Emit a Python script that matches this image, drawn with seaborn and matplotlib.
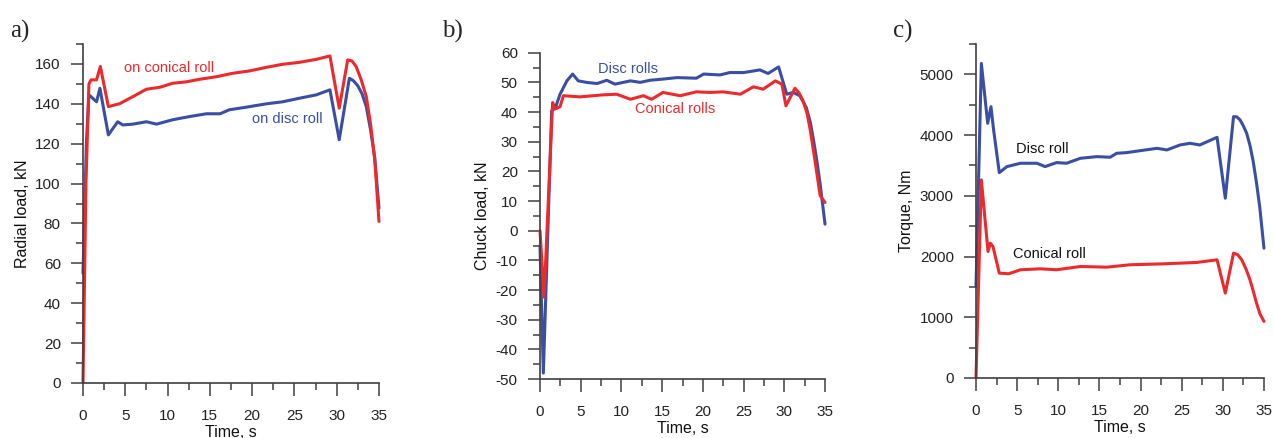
import matplotlib
matplotlib.use("Agg")
import matplotlib.pyplot as plt
import seaborn as sns
import pandas as pd
from matplotlib.ticker import MultipleLocator

# ---------------- data ----------------
# a) Radial load, kN
a_conical_t = [0, 0.35, 0.7, 0.95, 1.6, 2.05, 3.0, 4.3, 5.9, 7.5, 9.1, 10.6, 12.2, 13.8, 15.8,
               17.7, 19.7, 21.7, 23.6, 25.6, 27.6, 29.2, 30.3, 31.3, 31.8, 32.3, 32.9, 33.5, 34.0,
               34.5, 35.0]
a_conical_v = [0, 100, 150, 152, 152, 158.7, 138.6, 140, 143.6, 147.3, 148.3, 150.3, 151, 152.3, 153.6,
               155.3, 156.5, 158.3, 159.8, 160.8, 162.3, 164, 137.8, 162, 161.5, 158.7, 152, 143.6, 130,
               112, 81]
a_disc_t = [0, 0.4, 0.7, 1.6, 2.0, 3.0, 4.1, 4.7, 5.9, 7.5, 8.7, 10.6, 12.6, 14.6, 16.2, 17.3,
            19.3, 21.7, 23.6, 25.6, 27.6, 29.2, 30.3, 31.5, 32.0, 32.5, 33.0, 33.5, 34.0, 34.5, 35.0]
a_disc_v = [55, 120, 144.5, 141, 147.8, 124.4, 131, 129.4, 129.8, 131, 129.8, 132, 133.6, 135, 135, 137,
            138.3, 140, 141, 142.8, 144.5, 147, 122, 152.8, 151.5, 149, 145, 138.6, 127, 113, 87.7]

# b) Chuck load, kN
b_disc_t = [0, 0.41, 1.43, 1.9, 2.46, 3.3, 4.0, 4.7, 5.7, 7.0, 8.2, 9.2, 11.1, 12.3, 13.5, 15.1,
            16.8, 19.2, 20.1, 22.1, 23.3, 25.0, 27.0, 28.0, 29.3, 30.3, 31.1, 31.9, 32.7, 33.2,
            33.6, 34.0, 34.4, 35.0]
b_disc_v = [-5, -48, 40.4, 41.5, 46, 50.5, 52.8, 50.5, 50, 49.6, 50.7, 49.4, 50.5, 50, 50.7, 51.1,
            51.6, 51.4, 52.8, 52.5, 53.3, 53.3, 54.2, 53, 55.2, 46, 46.6, 45.5, 41.5, 36.5,
            30.3, 23.5, 15.7, 2.2]
b_conical_t = [0, 0.5, 1.55, 1.84, 2.46, 2.87, 4.9, 7.8, 9.4, 11.1, 12.7, 13.7, 15.1, 17.2, 19.2,
               20.9, 22.5, 24.6, 26.2, 27.4, 28.9, 29.7, 30.2, 31.3, 31.8, 32.3, 32.8, 33.2, 33.8,
               34.4, 35.0]
b_conical_v = [0, -22.4, 43.2, 41, 41.8, 45.5, 45.1, 45.8, 46, 44.3, 45.5, 44.3, 46.6, 45.5, 46.8,
               46.6, 46.8, 46, 48.5, 47.7, 50.5, 49.4, 42.1, 48, 46.5, 43.8, 39.5, 33.7, 23,
               11.8, 9.5]

# c) Torque, Nm
c_disc_t = [0, 0.65, 1.42, 1.82, 2.14, 2.83, 3.76, 5.4, 7.4, 8.4, 9.8, 11.0, 12.7, 14.7, 16.3, 17.1,
            18.3, 20.0, 22.0, 23.2, 24.8, 26.0, 27.2, 29.3, 30.3, 31.3, 31.7, 32.1, 32.5, 32.9,
            33.3, 33.7, 34.1, 34.5, 35.0]
c_disc_v = [1500, 5180, 4194, 4468, 4084, 3382, 3481, 3536, 3536, 3481, 3547, 3536, 3618, 3645, 3635, 3700,
            3711, 3744, 3782, 3755, 3837, 3865, 3837, 3963, 2960, 4303, 4300, 4249, 4150, 4029,
            3830, 3560, 3207, 2800, 2138]
c_conical_t = [0, 0.65, 1.46, 1.74, 2.06, 2.83, 3.97, 5.4, 7.8, 9.8, 12.7, 15.9, 18.7, 22.8, 26.8,
               29.3, 30.3, 31.3, 31.8, 32.3, 32.8, 33.3, 33.7, 34.1, 34.5, 35.0]
c_conical_v = [0, 3262, 2083, 2220, 2165, 1727, 1716, 1782, 1798, 1782, 1836, 1825, 1864, 1880, 1902,
               1946, 1398, 2056, 2030, 1946, 1800, 1617, 1430, 1233, 1060, 932]

x_ticks = [0, 5, 10, 15, 20, 25, 30, 35]

RED = "#ec2a2d"
BLUE = "#3a4ea3"
AXC = "#404040"

# ---------------- style ----------------
sns.set_style("ticks")
plt.rcParams["font.family"] = ["Liberation Sans", "DejaVu Sans"]
plt.rcParams["axes.unicode_minus"] = False

fig = plt.figure(figsize=(12.73, 4.38), dpi=100)

axes_rects = [
    [0.0652, 0.1256, 0.2325, 0.774],
    [0.4242, 0.1347, 0.2239, 0.745],
    [0.7667, 0.1370, 0.2262, 0.7626],
]
axs = [fig.add_axes(r) for r in axes_rects]


def style_axis(ax, ylim, ymajor, yminor, ylabel):
    ax.set_xlim(0, 35)
    ax.set_ylim(*ylim)
    ax.set_xticks(x_ticks)
    ax.xaxis.set_minor_locator(MultipleLocator(2.5))
    ax.yaxis.set_major_locator(MultipleLocator(ymajor))
    ax.yaxis.set_minor_locator(MultipleLocator(yminor))
    for s in ["top", "right"]:
        ax.spines[s].set_visible(False)
    for s in ["left", "bottom"]:
        ax.spines[s].set_color(AXC)
        ax.spines[s].set_linewidth(1.2)
    ax.tick_params(which="major", direction="out", length=9, width=1.1, color=AXC,
                   labelsize=11, labelcolor="#222222")
    ax.tick_params(which="minor", direction="out", length=5, width=1.1, color=AXC)
    ax.tick_params(axis="x", which="major", pad=10)
    ax.tick_params(axis="y", which="major", pad=7)
    ax.set_xlabel("Time, s", fontsize=11.5, color="#111111", labelpad=1)
    ax.set_ylabel(ylabel, fontsize=11.5, color="#111111", labelpad=4)
    if ax.get_legend() is not None:
        ax.get_legend().remove()


def draw(ax, t, v, color):
    df = pd.DataFrame({"t": t, "v": v})
    sns.lineplot(data=df, x="t", y="v", ax=ax, color=color, linewidth=2.2,
                 sort=False, estimator=None, clip_on=False)


# a)
ax = axs[0]
draw(ax, a_disc_t, a_disc_v, BLUE)
draw(ax, a_conical_t, a_conical_v, RED)
style_axis(ax, (0, 170), 20, 10, "Radial load, kN")
ax.set_yticks(range(0, 161, 20))
ax.text(4.8, 158, "on conical roll", color=RED, fontsize=10.5, va="center", ha="left")
ax.text(20.0, 132.4, "on disc roll", color=BLUE, fontsize=10.5, va="center", ha="left")

# b)
ax = axs[1]
draw(ax, b_disc_t, b_disc_v, BLUE)
draw(ax, b_conical_t, b_conical_v, RED)
style_axis(ax, (-50, 60), 10, 5, "Chuck load, kN")
ax.text(7.1, 54.5, "Disc rolls", color=BLUE, fontsize=10.5, va="center", ha="left")
ax.text(11.7, 40.9, "Conical rolls", color=RED, fontsize=10.5, va="center", ha="left")

# c)
ax = axs[2]
draw(ax, c_disc_t, c_disc_v, BLUE)
draw(ax, c_conical_t, c_conical_v, RED)
style_axis(ax, (0, 5500), 1000, 500, "Torque, Nm")
ax.set_yticks(range(0, 5001, 1000))
ax.text(4.9, 3772, "Disc roll", color="#111111", fontsize=10.5, va="center", ha="left")
ax.text(4.45, 2043, "Conical roll", color="#111111", fontsize=10.5, va="center", ha="left")

# panel letters
for x, lab in [(10, "a)"), (442, "b)"), (893, "c)")]:
    fig.text(x / 1273, 1 - 38 / 438, lab, fontsize=18, family=["Liberation Serif", "DejaVu Serif"],
             ha="left", va="baseline")

fig.savefig("out.png", dpi=100)
